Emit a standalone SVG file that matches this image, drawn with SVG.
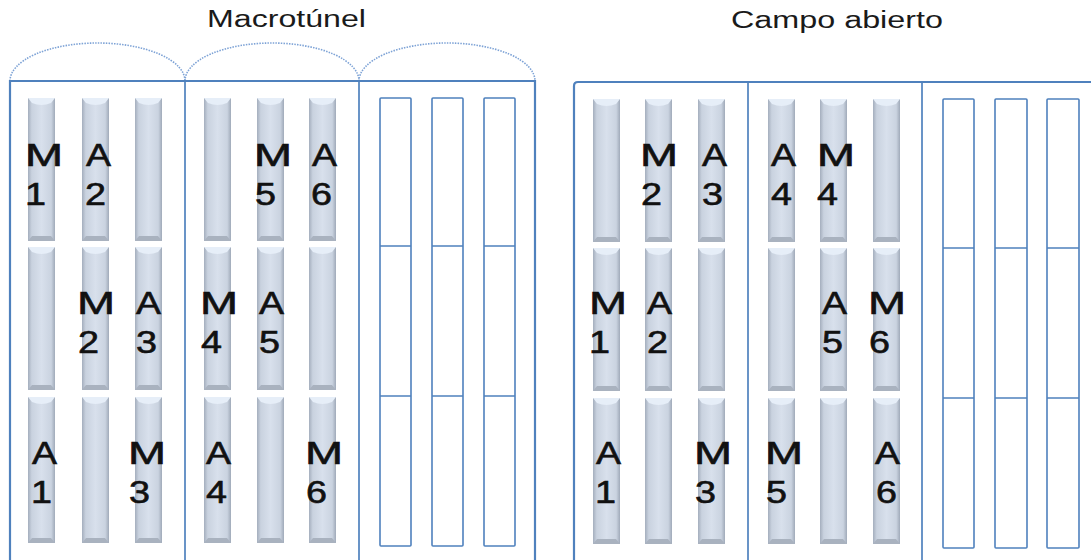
<svg xmlns="http://www.w3.org/2000/svg" xmlns:xlink="http://www.w3.org/1999/xlink" width="1091" height="560" viewBox="0 0 1091 560">
<style>
.t{font-family:"Liberation Sans",Arial,sans-serif;font-size:23px;fill:#1a1a1a}
.L{font-family:"Liberation Sans",Arial,sans-serif;font-size:31px;fill:#111;stroke:#111;stroke-width:0.6}
.fr{fill:none;stroke:#4f81bd;stroke-width:2.2}
.dv{fill:none;stroke:#4f81bd;stroke-width:2;stroke-opacity:.85}
.arc{fill:none;stroke:#7ea3d6;stroke-width:1.6;stroke-dasharray:1.5 1.2}
.hb{fill:#fff;stroke:#4f81bd;stroke-width:1.6}
.hl{stroke:#4f81bd;stroke-width:1.6}
</style>
<defs>
<linearGradient id="gH" x1="0" y1="0" x2="1" y2="0">
<stop offset="0" stop-color="#a4aebd"/>
<stop offset="0.14" stop-color="#c9d2df"/>
<stop offset="0.5" stop-color="#d8e0ec"/>
<stop offset="0.86" stop-color="#cad3e0"/>
<stop offset="1" stop-color="#a0aab9"/>
</linearGradient>
<g id="bar">
<rect x="0" y="0" width="27" height="143" fill="url(#gH)"/>
<path d="M0,0 H27 L23,5 Q13.5,9 4,5 Z" fill="#e6eef8"/>
<path d="M0,143 H27 L23,138 H4 Z" fill="#a9b2bf"/>
</g>
<g id="barT">
<rect x="0" y="0" width="27" height="146" fill="url(#gH)"/>
<path d="M0,0 H27 L23,5 Q13.5,9 4,5 Z" fill="#e6eef8"/>
<path d="M0,146 H27 L23,141 H4 Z" fill="#a9b2bf"/>
</g>
</defs>
<rect width="1091" height="560" fill="#fff"/>

<g id="title-macrotunel"><text class="t" x="207" y="27" textLength="159" lengthAdjust="spacingAndGlyphs">Macrotúnel</text></g>
<g id="title-campo"><text class="t" x="731" y="28" textLength="212" lengthAdjust="spacingAndGlyphs">Campo abierto</text></g>

<g id="macrotunel-frame">
<path class="arc" d="M10,81 A87.5,38 0 0 1 185,81"/>
<path class="arc" d="M185,81 A87,38 0 0 1 359,81"/>
<path class="arc" d="M359,81 A88,38 0 0 1 535,81"/>
<path class="fr" d="M10,560 V81 H535 V560"/>
<path class="dv" d="M185,81 V560 M359,81 V560"/>
</g>

<g id="campo-frame">
<path class="fr" d="M574,560 V86 Q574,82 578,82 H1091"/>
<path class="dv" d="M748,82 V560 M922,82 V560"/>
</g>

<g id="macrotunel-bars">
<use xlink:href="#bar" x="28" y="98"/><use xlink:href="#bar" x="82" y="98"/><use xlink:href="#bar" x="135" y="98"/>
<use xlink:href="#bar" x="28" y="247"/><use xlink:href="#bar" x="82" y="247"/><use xlink:href="#bar" x="135" y="247"/>
<use xlink:href="#barT" x="28" y="397"/><use xlink:href="#barT" x="82" y="397"/><use xlink:href="#barT" x="135" y="397"/>
<use xlink:href="#bar" x="204" y="98"/><use xlink:href="#bar" x="257" y="98"/><use xlink:href="#bar" x="309" y="98"/>
<use xlink:href="#bar" x="204" y="247"/><use xlink:href="#bar" x="257" y="247"/><use xlink:href="#bar" x="309" y="247"/>
<use xlink:href="#barT" x="204" y="397"/><use xlink:href="#barT" x="257" y="397"/><use xlink:href="#barT" x="309" y="397"/>
</g>

<g id="macrotunel-empty">
<rect class="hb" x="380" y="98" width="31" height="448" rx="1"/>
<rect class="hb" x="432" y="98" width="31" height="448" rx="1"/>
<rect class="hb" x="484" y="98" width="31" height="448" rx="1"/>
<path class="hl" d="M380,246 H411 M432,246 H463 M484,246 H515 M380,396 H411 M432,396 H463 M484,396 H515"/>
</g>

<g id="campo-bars">
<use xlink:href="#bar" x="593" y="99"/><use xlink:href="#bar" x="645" y="99"/><use xlink:href="#bar" x="698" y="99"/>
<use xlink:href="#bar" x="593" y="248"/><use xlink:href="#bar" x="645" y="248"/><use xlink:href="#bar" x="698" y="248"/>
<use xlink:href="#barT" x="593" y="398"/><use xlink:href="#barT" x="645" y="398"/><use xlink:href="#barT" x="698" y="398"/>
<use xlink:href="#bar" x="768" y="99"/><use xlink:href="#bar" x="820" y="99"/><use xlink:href="#bar" x="873" y="99"/>
<use xlink:href="#bar" x="768" y="248"/><use xlink:href="#bar" x="820" y="248"/><use xlink:href="#bar" x="873" y="248"/>
<use xlink:href="#barT" x="768" y="398"/><use xlink:href="#barT" x="820" y="398"/><use xlink:href="#barT" x="873" y="398"/>
</g>

<g id="campo-empty">
<rect class="hb" x="943" y="99" width="31" height="449" rx="1"/>
<rect class="hb" x="995" y="99" width="32" height="449" rx="1"/>
<rect class="hb" x="1047" y="99" width="32" height="449" rx="1"/>
<path class="hl" d="M943,248 H974 M995,248 H1027 M1047,248 H1079 M943,398 H974 M995,398 H1027 M1047,398 H1079"/>
</g>

<g id="macrotunel-labels">
<g id="mt-M1"><text class="L" x="25" y="166" textLength="38" lengthAdjust="spacingAndGlyphs">M</text><text class="L" x="25" y="205" textLength="21" lengthAdjust="spacingAndGlyphs">1</text></g>
<g id="mt-A2"><text class="L" x="86" y="166" textLength="25" lengthAdjust="spacingAndGlyphs">A</text><text class="L" x="85" y="205" textLength="21" lengthAdjust="spacingAndGlyphs">2</text></g>
<g id="mt-M5"><text class="L" x="254" y="166" textLength="38" lengthAdjust="spacingAndGlyphs">M</text><text class="L" x="255" y="205" textLength="21" lengthAdjust="spacingAndGlyphs">5</text></g>
<g id="mt-A6"><text class="L" x="312" y="166" textLength="25" lengthAdjust="spacingAndGlyphs">A</text><text class="L" x="311" y="205" textLength="21" lengthAdjust="spacingAndGlyphs">6</text></g>
<g id="mt-M2"><text class="L" x="77" y="314" textLength="38" lengthAdjust="spacingAndGlyphs">M</text><text class="L" x="78" y="353" textLength="21" lengthAdjust="spacingAndGlyphs">2</text></g>
<g id="mt-A3"><text class="L" x="136" y="314" textLength="25" lengthAdjust="spacingAndGlyphs">A</text><text class="L" x="136" y="353" textLength="21" lengthAdjust="spacingAndGlyphs">3</text></g>
<g id="mt-M4"><text class="L" x="200" y="314" textLength="38" lengthAdjust="spacingAndGlyphs">M</text><text class="L" x="201" y="353" textLength="21" lengthAdjust="spacingAndGlyphs">4</text></g>
<g id="mt-A5"><text class="L" x="259" y="314" textLength="25" lengthAdjust="spacingAndGlyphs">A</text><text class="L" x="259" y="353" textLength="21" lengthAdjust="spacingAndGlyphs">5</text></g>
<g id="mt-A1"><text class="L" x="32" y="464" textLength="25" lengthAdjust="spacingAndGlyphs">A</text><text class="L" x="31" y="503" textLength="21" lengthAdjust="spacingAndGlyphs">1</text></g>
<g id="mt-M3"><text class="L" x="128" y="464" textLength="38" lengthAdjust="spacingAndGlyphs">M</text><text class="L" x="129" y="503" textLength="21" lengthAdjust="spacingAndGlyphs">3</text></g>
<g id="mt-A4"><text class="L" x="206" y="464" textLength="25" lengthAdjust="spacingAndGlyphs">A</text><text class="L" x="206" y="503" textLength="21" lengthAdjust="spacingAndGlyphs">4</text></g>
<g id="mt-M6"><text class="L" x="305" y="464" textLength="38" lengthAdjust="spacingAndGlyphs">M</text><text class="L" x="306" y="503" textLength="21" lengthAdjust="spacingAndGlyphs">6</text></g>
</g>

<g id="campo-labels">
<g id="ca-M2"><text class="L" x="640" y="166" textLength="38" lengthAdjust="spacingAndGlyphs">M</text><text class="L" x="641" y="205" textLength="21" lengthAdjust="spacingAndGlyphs">2</text></g>
<g id="ca-A3"><text class="L" x="702" y="166" textLength="25" lengthAdjust="spacingAndGlyphs">A</text><text class="L" x="702" y="205" textLength="21" lengthAdjust="spacingAndGlyphs">3</text></g>
<g id="ca-A4"><text class="L" x="771" y="166" textLength="25" lengthAdjust="spacingAndGlyphs">A</text><text class="L" x="771" y="205" textLength="21" lengthAdjust="spacingAndGlyphs">4</text></g>
<g id="ca-M4"><text class="L" x="817" y="166" textLength="38" lengthAdjust="spacingAndGlyphs">M</text><text class="L" x="817" y="205" textLength="21" lengthAdjust="spacingAndGlyphs">4</text></g>
<g id="ca-M1"><text class="L" x="589" y="314" textLength="38" lengthAdjust="spacingAndGlyphs">M</text><text class="L" x="589" y="353" textLength="21" lengthAdjust="spacingAndGlyphs">1</text></g>
<g id="ca-A2"><text class="L" x="647" y="314" textLength="25" lengthAdjust="spacingAndGlyphs">A</text><text class="L" x="647" y="353" textLength="21" lengthAdjust="spacingAndGlyphs">2</text></g>
<g id="ca-A5"><text class="L" x="822" y="314" textLength="25" lengthAdjust="spacingAndGlyphs">A</text><text class="L" x="822" y="353" textLength="21" lengthAdjust="spacingAndGlyphs">5</text></g>
<g id="ca-M6"><text class="L" x="868" y="314" textLength="38" lengthAdjust="spacingAndGlyphs">M</text><text class="L" x="869" y="353" textLength="21" lengthAdjust="spacingAndGlyphs">6</text></g>
<g id="ca-A1"><text class="L" x="596" y="464" textLength="25" lengthAdjust="spacingAndGlyphs">A</text><text class="L" x="595" y="503" textLength="21" lengthAdjust="spacingAndGlyphs">1</text></g>
<g id="ca-M3"><text class="L" x="694" y="464" textLength="38" lengthAdjust="spacingAndGlyphs">M</text><text class="L" x="695" y="503" textLength="21" lengthAdjust="spacingAndGlyphs">3</text></g>
<g id="ca-M5"><text class="L" x="765" y="464" textLength="38" lengthAdjust="spacingAndGlyphs">M</text><text class="L" x="766" y="503" textLength="21" lengthAdjust="spacingAndGlyphs">5</text></g>
<g id="ca-A6"><text class="L" x="875" y="464" textLength="25" lengthAdjust="spacingAndGlyphs">A</text><text class="L" x="876" y="503" textLength="21" lengthAdjust="spacingAndGlyphs">6</text></g>
</g>
</svg>
